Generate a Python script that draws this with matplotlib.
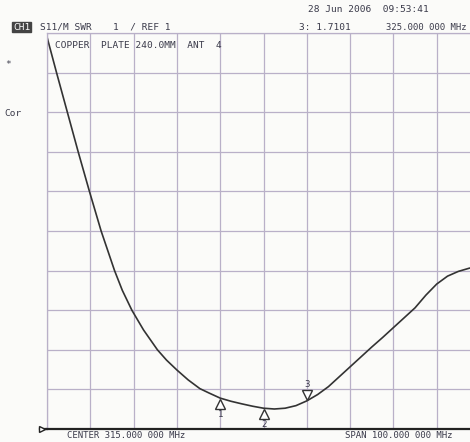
import numpy as np
import matplotlib.pyplot as plt
from matplotlib.transforms import offset_copy, blended_transform_factory

# S11 SWR sweep (MHz, SWR)
freq = [265.0, 267.2, 269.7, 272.2, 274.8, 277.5, 280.6, 282.4, 284.6, 287.3,
        290.5, 292.6, 295.0, 297.6, 300.3, 302.4, 305.0, 307.5, 310.0, 312.5,
        315.0, 317.5, 320.0, 322.5, 325.0, 327.5, 330.0, 332.5, 335.0, 337.5,
        340.0, 342.5, 345.0, 347.5, 350.0, 352.5, 355.0, 357.5, 360.0, 362.5,
        365.0]
swr = [10.9, 10.0, 9.0, 8.0, 7.0, 6.0, 5.0, 4.5, 4.0, 3.5,
       3.0, 2.74, 2.49, 2.24, 2.02, 1.91, 1.78, 1.70, 1.635, 1.575,
       1.525, 1.505, 1.525, 1.59, 1.71, 1.87, 2.07, 2.32, 2.57, 2.82,
       3.07, 3.31, 3.56, 3.81, 4.06, 4.38, 4.66, 4.86, 4.98, 5.06,
       5.12]

marker_freq = [305.0, 315.0, 325.0]
marker_swr = [1.78, 1.525, 1.71]
marker_labels = ["1", "2", "3"]

center = 315.0
span = 100.0
ref = 1.0
per_div = 1.0

mono = "DejaVu Sans Mono"
ink = "#3a3a4a"
gridc = "#b9b0c8"

fig = plt.figure(figsize=(4.7, 4.42), dpi=100)
fig.patch.set_facecolor("#fbfbf9")

def px(x, y):
    return x / 470, 1 - y / 442

ax = fig.add_axes([47 / 470, 13 / 442, 433 / 470, 396 / 442])
ax.set_facecolor("#fbfbf9")
ax.set_xlim(center - span / 2, center + span / 2)
ax.set_ylim(ref, ref + 10 * per_div)
ax.set_xticks(np.arange(center - span / 2, center + span / 2 + 1, span / 10))
ax.set_yticks(np.arange(ref, ref + 10 * per_div + 0.1, per_div))
ax.grid(True, color=gridc, linewidth=0.9)
ax.tick_params(length=0, labelbottom=False, labelleft=False)
for s in ["left", "top", "right"]:
    ax.spines[s].set_color(gridc)
    ax.spines[s].set_linewidth(0.9)
ax.spines["bottom"].set_color("#222")
ax.spines["bottom"].set_linewidth(1.6)

ax.plot(freq, swr, color="#333", linewidth=1.2)

# reference line extension + ref pointer
tr = blended_transform_factory(ax.transAxes, ax.transData)
ax.plot([-0.016, 0], [ref, ref], color="#222", lw=1.6, transform=tr, clip_on=False)
ax.plot([-0.012], [ref], marker=">", ms=4, mfc="white", mec="#222", transform=tr, clip_on=False)

# markers
for f, v, lab in zip(marker_freq, marker_swr, marker_labels):
    if lab == "3":
        t = offset_copy(ax.transData, fig=fig, y=6, units="dots")
        ax.plot([f], [v], marker="v", ms=7, mfc="white", mec="#333", mew=1.0, transform=t)
        ax.annotate(lab, (f, v), xytext=(0, 12), textcoords="offset pixels",
                    ha="center", va="bottom", fontsize=6.5, family=mono, color=ink)
    else:
        t = offset_copy(ax.transData, fig=fig, y=-6, units="dots")
        ax.plot([f], [v], marker="^", ms=7, mfc="white", mec="#333", mew=1.0, transform=t)
        ax.annotate(lab, (f, v), xytext=(0, -12), textcoords="offset pixels",
                    ha="center", va="top", fontsize=6.5, family=mono, color=ink)

fs = 6.8
fig.text(*px(308, 10), "28 Jun 2006  09:53:41", fontsize=fs, family=mono, color=ink, va="center")
fig.text(*px(13, 27), "CH1", fontsize=fs, family=mono, color="white", va="center",
         bbox=dict(boxstyle="square,pad=0.1", fc="#444", ec="#444"))
fig.text(*px(40, 27), "S11/M SWR", fontsize=fs, family=mono, color=ink, va="center")
fig.text(*px(113, 27), "1  / REF 1", fontsize=fs, family=mono, color=ink, va="center")
fig.text(*px(299, 27), "3: 1.7101", fontsize=fs, family=mono, color=ink, va="center")
fig.text(*px(386, 27), "325.000 000 MHz", fontsize=6.4, family=mono, color=ink, va="center")
fig.text(*px(55, 46), "COPPER  PLATE 240.0MM  ANT  4", fontsize=fs, family=mono, color=ink, va="center")
fig.text(*px(8, 64), "*", fontsize=fs, family=mono, color=ink, va="center", ha="center")
fig.text(*px(4, 113), "Cor", fontsize=fs, family=mono, color=ink, va="center")
fig.text(*px(67, 436), "CENTER 315.000 000 MHz", fontsize=6.5, family=mono, color=ink, va="center")
fig.text(*px(345, 436), "SPAN 100.000 000 MHz", fontsize=6.5, family=mono, color=ink, va="center")

fig.savefig("out.png", dpi=100, facecolor=fig.get_facecolor())
